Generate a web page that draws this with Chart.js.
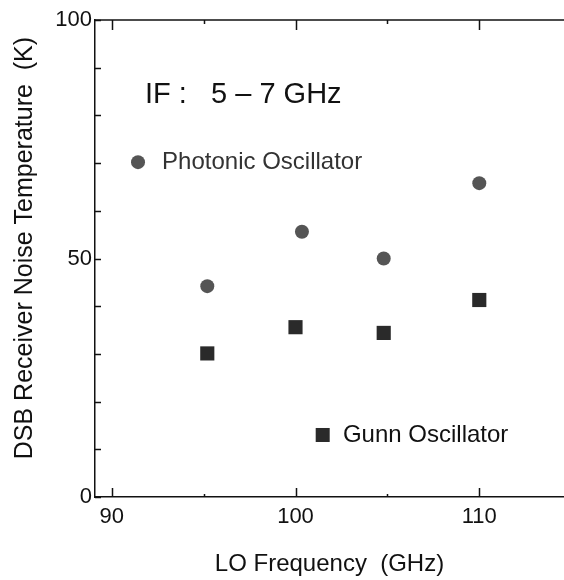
<!DOCTYPE html>
<html>
<head>
<meta charset="utf-8">
<script src="https://cdn.jsdelivr.net/npm/chart.js@4/dist/chart.umd.min.js"></script>
<style>
    html, body { margin: 0; padding: 0; background: #fff; overflow: hidden; }
    #wrap { position: relative; width: 564px; height: 580px; }
    #chart { display: block; }
</style>
</head>
<body>
<div id="wrap"><canvas id="chart"></canvas></div>
<script>
// Datos
const photonicFreq = [95.2, 100.35, 104.8, 110.0];
const photonicTemp = [44.2, 55.6, 50.0, 65.8];
const gunnFreq = [95.2, 100.0, 104.8, 110.0];
const gunnTemp = [30.1, 35.6, 34.4, 41.3];

const xTicks = [90, 95, 100, 105, 110];
const xLabels = [90, 100, 110];
const yTicks = [0, 10, 20, 30, 40, 50, 60, 70, 80, 90, 100];
const yLabels = [0, 50, 100];

const FONT = '"Liberation Sans", Arial, Helvetica, sans-serif';

const toPoints = (xs, ys) => xs.map((x, i) => ({ x: x, y: ys[i] }));

// Marcas hacia dentro, línea superior y textos de leyenda
const framePlugin = {
    id: 'frame',
    afterDraw: (chart) => {
        const ctx = chart.ctx;
        const area = chart.chartArea;
        const xs = chart.scales.x;
        const ys = chart.scales.y;

        ctx.save();
        ctx.strokeStyle = '#111';
        ctx.lineWidth = 1.5;

        // línea superior
        ctx.beginPath();
        ctx.moveTo(area.left, area.top);
        ctx.lineTo(area.right, area.top);
        ctx.stroke();

        // marcas del eje x (abajo y arriba)
        xTicks.forEach(v => {
            const px = Math.round(xs.getPixelForValue(v)) + 0.5;
            const major = xLabels.includes(v);
            ctx.beginPath();
            ctx.moveTo(px, area.bottom);
            ctx.lineTo(px, area.bottom - (major ? 9 : 3));
            ctx.moveTo(px, area.top);
            ctx.lineTo(px, area.top + (major ? 10 : 4));
            ctx.stroke();
        });

        // marcas del eje y
        yTicks.forEach(v => {
            const py = Math.round(ys.getPixelForValue(v)) + 0.5;
            ctx.beginPath();
            ctx.moveTo(area.left, py);
            ctx.lineTo(area.left + 6, py);
            ctx.stroke();
        });

        // textos
        ctx.fillStyle = '#111';
        ctx.textBaseline = 'middle';
        ctx.textAlign = 'left';

        ctx.font = '29px ' + FONT;
        ctx.fillText('IF :   5 \u2013 7 GHz', xs.getPixelForValue(91.81), ys.getPixelForValue(84.3));

        ctx.font = '24px ' + FONT;
        ctx.fillStyle = '#333';
        ctx.fillText('Photonic Oscillator', xs.getPixelForValue(92.74), ys.getPixelForValue(70.2));
        ctx.fillStyle = '#111';
        ctx.fillText('Gunn Oscillator', xs.getPixelForValue(102.58), ys.getPixelForValue(13));

        // símbolos de la leyenda
        ctx.fillStyle = '#555';
        ctx.beginPath();
        ctx.arc(xs.getPixelForValue(91.43), ys.getPixelForValue(70.2), 7, 0, Math.PI * 2);
        ctx.fill();

        ctx.fillStyle = '#2a2a2a';
        const sx = xs.getPixelForValue(101.48);
        const sy = ys.getPixelForValue(13);
        ctx.fillRect(sx - 7, sy - 7, 14, 14);

        ctx.restore();
    }
};

const config = {
    type: 'scatter',
    data: {
        datasets: [
            {
                label: 'Photonic Oscillator',
                data: toPoints(photonicFreq, photonicTemp),
                pointStyle: 'circle',
                pointRadius: 7,
                backgroundColor: '#555',
                borderColor: '#555',
                borderWidth: 0
            },
            {
                label: 'Gunn Oscillator',
                data: toPoints(gunnFreq, gunnTemp),
                pointStyle: 'rect',
                pointRadius: 10,
                backgroundColor: '#2a2a2a',
                borderColor: '#2a2a2a',
                borderWidth: 0
            }
        ]
    },
    options: {
        responsive: true,
        maintainAspectRatio: false,
        animation: false,
        events: [],
        layout: {
            autoPadding: false, // sin margen extra por el radio de los puntos
            padding: { top: 20, right: 0, bottom: 0, left: 0 }
        },
        plugins: {
            legend: { display: false },
            tooltip: { enabled: false }
        },
        scales: {
            x: {
                type: 'linear',
                min: 89.09,
                max: 114.61,
                afterBuildTicks: (scale) => { scale.ticks = xTicks.map(v => ({ value: v })); },
                afterFit: (scale) => {
                    scale.height = 83;
                    scale.paddingLeft = 0;
                    scale.paddingRight = 0;
                },
                grid: { display: false, drawTicks: false },
                border: { display: true, color: '#111', width: 1.5 },
                ticks: {
                    color: '#111',
                    padding: 7,
                    maxRotation: 0,
                    autoSkip: false,
                    font: { family: FONT, size: 22 },
                    callback: (value) => xLabels.includes(value) ? String(value) : ''
                },
                title: {
                    display: true,
                    text: 'LO Frequency  (GHz)',
                    color: '#111',
                    font: { family: FONT, size: 24 },
                    padding: { top: 0, bottom: 1 }
                }
            },
            y: {
                type: 'linear',
                min: 0,
                max: 100,
                afterBuildTicks: (scale) => { scale.ticks = yTicks.map(v => ({ value: v })); },
                afterFit: (scale) => { scale.width = 95; },
                grid: { display: false, drawTicks: false },
                border: { display: true, color: '#111', width: 1.5 },
                ticks: {
                    color: '#111',
                    padding: 3,
                    autoSkip: false,
                    font: { family: FONT, size: 22 },
                    callback: (value) => yLabels.includes(value) ? String(value) : ''
                },
                title: {
                    display: true,
                    text: '   DSB Receiver Noise Temperature  (K)',
                    color: '#111',
                    font: { family: FONT, size: 25 },
                    padding: { top: 10, bottom: 0 }
                }
            }
        }
    },
    plugins: [framePlugin]
};

new Chart(document.getElementById('chart'), config);
</script>
</body>
</html>
